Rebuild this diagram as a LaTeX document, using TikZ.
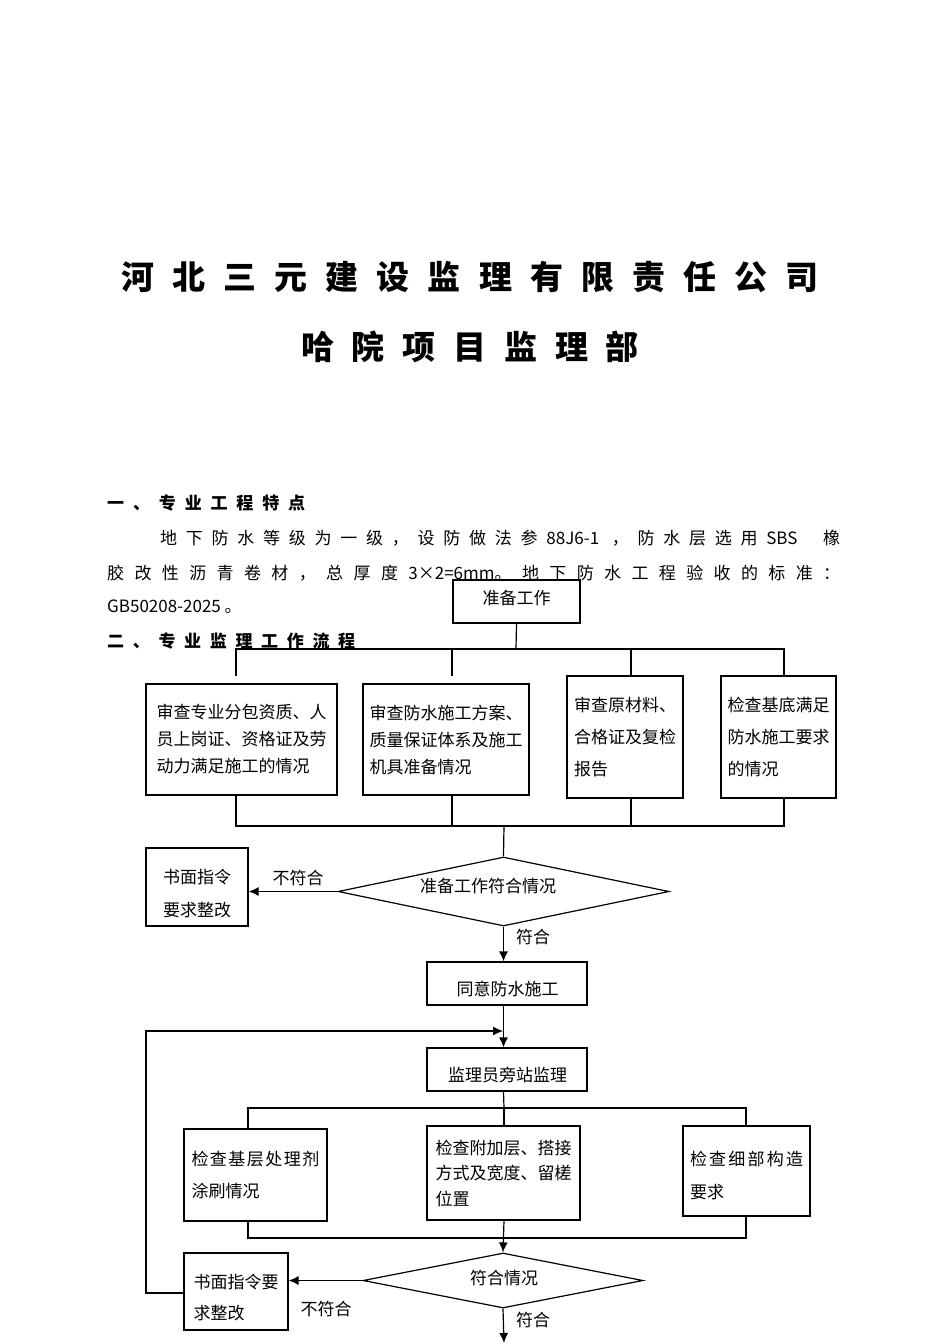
\documentclass[tikz,border=0pt]{standalone}
\usepackage{fontspec}
\setmainfont{Noto Sans CJK SC}
\usetikzlibrary{arrows.meta,shapes.geometric}
\ExplSyntaxOn
\NewDocumentCommand\spreadto{m m}{\makebox[#1][s]{\tl_map_inline:nn {#2} {##1\hfil}\unskip}}
\ExplSyntaxOff
\begin{document}
\begin{tikzpicture}[x=1pt,y=-1pt,
  box/.style={draw,line width=1.2pt,inner sep=0pt,align=left,font=\fontsize{17}{27}\selectfont},
  frame/.style={draw,line width=1.2pt,inner sep=0pt},
  txt/.style={inner sep=0pt,align=left,font=\fontsize{17}{27}\selectfont},
  dia/.style={draw,diamond,line width=1.2pt,inner sep=0pt},
  ln/.style={line width=1.2pt},
  arr/.style={line width=1.2pt,-{Latex[length=10pt,width=9pt]}},
  lbl/.style={font=\fontsize{17}{20}\selectfont,inner sep=0pt},
  ttl/.style={font=\bfseries\fontsize{33}{33}\selectfont,inner sep=0pt},
  body/.style={font=\fontsize{17}{17}\selectfont,inner sep=0pt,anchor=west},
  head/.style={font=\bfseries\fontsize{17}{17}\selectfont,inner sep=0pt,anchor=west},
]
\useasboundingbox (0,0) rectangle (950,1344);
\fill[white] (0,0) rectangle (950,1344);

% titles and text
\node[ttl] (t1) at (470,277) {\spreadto{698pt}{河北三元建设监理有限责任公司}};
\node[ttl] (t2) at (470,347) {\spreadto{338pt}{哈院项目监理部}};
\node[head] (h1) at (107,503) {\spreadto{198pt}{一、专业工程特点}};
\node[body] (p1) at (160,538) {\spreadto{680pt}{地下防水等级为一级，设防做法参{88J6-1\ }，防水层选用{SBS\quad}橡}};
\node[body] (p2) at (107,573) {\spreadto{733pt}{胶改性沥青卷材，总厚度{3×2=6mm。}地下防水工程验收的标准：}};
\node[body] (p3) at (107,607) {GB50208-2025 。};
\node[head] (h2) at (107,641) {\spreadto{248pt}{二、专业监理工作流程}};

% first stage boxes
\node[frame,minimum width=127pt,minimum height=43pt] (prep) at (516.5,601.5) {};
\node[txt] (prept) at (516.5,598) {准备工作};
\node[box,minimum width=191pt,minimum height=111pt] (b1) at (241.5,739.5) {审查专业分包资质、人\\员上岗证、资格证及劳\\动力满足施工的情况};
\node[box,minimum width=166pt,minimum height=111pt] (b2) at (446,739.5) {审查防水施工方案、\\质量保证体系及施工\\机具准备情况};
\node[box,minimum width=116pt,minimum height=122pt,font=\fontsize{17}{32}\selectfont] (b3) at (625,737) {审查原材料、\\合格证及复检\\报告};
\node[box,minimum width=115pt,minimum height=122pt,font=\fontsize{17}{32}\selectfont] (b4) at (778.5,737) {检查基底满足\\防水施工要求\\的情况};

\node[dia,minimum width=331pt,minimum height=69pt,aspect=4.8] (d1) at (503.5,891.5) {};
\node[txt] (d1t) at (488,886) {准备工作符合情况};
\node[frame,minimum width=102pt,minimum height=78pt] (rej1) at (197,887) {};
\node[txt,align=center,font=\fontsize{17}{33}\selectfont] (rej1t) at (197,893.5) {书面指令\\要求整改};
\node[frame,minimum width=160pt,minimum height=43pt] (agree) at (507,983.5) {};
\node[txt] (agreet) at (507.5,989) {同意防水施工};
\node[frame,minimum width=160pt,minimum height=43pt] (super) at (507,1069.5) {};
\node[txt] (supert) at (507.5,1075) {监理员旁站监理};

\node[box,minimum width=143pt,minimum height=92pt,font=\fontsize{17}{32}\selectfont] (A) at (255.5,1175) {\spreadto{128pt}{检查基层处理剂}\\涂刷情况};
\node[box,minimum width=153pt,minimum height=94pt,font=\fontsize{17}{25.5}\selectfont] (B) at (503.5,1173) {检查附加层、搭接\\方式及宽度、留槎\\位置};
\node[frame,minimum width=127pt,minimum height=90pt] (C) at (746.5,1171) {};
\node[txt,font=\fontsize{17}{33}\selectfont] (Ct) at (746.5,1175) {\spreadto{113pt}{检查细部构造}\\要求};

\node[dia,minimum width=280pt,minimum height=55pt,aspect=5] (d2) at (503,1280.5) {};
\node[txt] (d2t) at (504,1278) {符合情况};
\node[frame,minimum width=104pt,minimum height=77pt] (D) at (236,1291.5) {};
\node[txt,font=\fontsize{17}{31}\selectfont] (Dt) at (236,1297.5) {书面指令要\\求整改};

% labels
\node[lbl] (l1) at (298,878) {不符合};
\node[lbl] (l2) at (533,937) {符合};
\node[lbl] (l3) at (326,1309) {不符合};
\node[lbl] (l4) at (533,1320) {符合};

% bus coordinates
\coordinate (u1) at (516,649);
\coordinate (u1a) at (236,649);
\coordinate (u1b) at (452,649);
\coordinate (u1c) at (631,649);
\coordinate (u1d) at (784,649);
\coordinate (u1ae) at (236,676);
\coordinate (u1be) at (452,676);
\coordinate (u2a) at (236,826);
\coordinate (u2b) at (452,826);
\coordinate (u2c) at (631,826);
\coordinate (u2d) at (784,826);
\coordinate (u2m) at (504,826);
\coordinate (loopA) at (146,1293);
\coordinate (loopB) at (146,1031);
\coordinate (loopC) at (503,1031);
\coordinate (u3) at (504,1108);
\coordinate (u3a) at (248,1108);
\coordinate (u3c) at (746,1108);
\coordinate (u4a) at (248,1238);
\coordinate (u4c) at (746,1238);
\coordinate (dend) at (504,1343);

% connectors stage 1
\draw[ln] (prep.south) -- (u1);
\draw[ln] (u1ae) -- (u1a) -- (u1d) -- (u1d |- b4.north);
\draw[ln] (u1b) -- (u1be);
\draw[ln] (u1c) -- (u1c |- b3.north);
\draw[ln] (u1a |- b1.south) -- (u2a) -- (u2d) -- (u2d |- b4.south);
\draw[ln] (u2b |- b2.south) -- (u2b);
\draw[ln] (u2c |- b3.south) -- (u2c);
\draw[ln] (u2m) -- (d1.north);
\draw[arr] (d1.west) -- (d1.west -| rej1.east);
\draw[arr] (d1.south) -- (d1.south |- agree.north);
\draw[arr] (d1.south |- agree.south) -- (d1.south |- super.north);
\draw[arr] (loopA -| D.west) -- (loopA) -- (loopB) -- (loopC);

% stage 2
\draw[ln] (d1.south |- super.south) -- (u3);
\draw[ln] (u3a |- A.north) -- (u3a) -- (u3c) -- (u3c |- C.north);
\draw[ln] (u3) -- (u3 |- B.north);
\draw[ln] (u4a |- A.south) -- (u4a) -- (u4c) -- (u4c |- C.south);
\draw[arr] (u3 |- B.south) -- (d2.north);
\draw[arr] (d2.west) -- (d2.west -| D.east);
\draw[arr] (d2.south) -- (dend);
\end{tikzpicture}
\end{document}
